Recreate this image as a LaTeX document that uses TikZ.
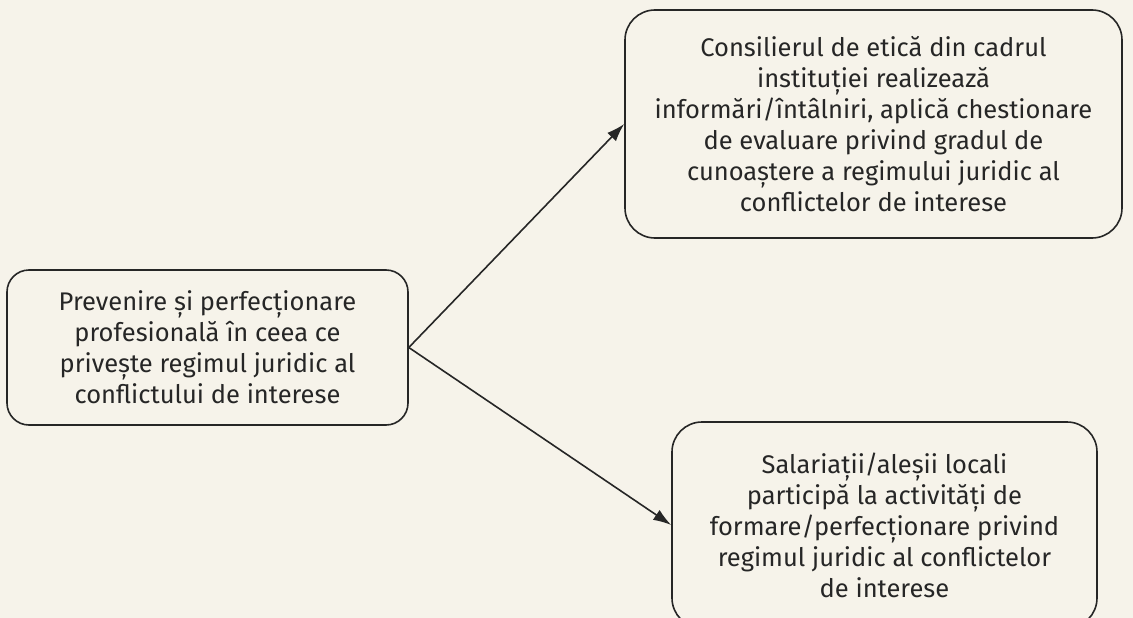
\documentclass[tikz,border=0pt]{standalone}
\usepackage{fontspec}
\setmainfont{Fira Sans}
\usetikzlibrary{arrows.meta}
\definecolor{paper}{HTML}{F6F3EA}
\definecolor{ink}{HTML}{262626}
\begin{document}
\begin{tikzpicture}[x=1pt,y=-1pt,
  box/.style={draw=ink, line width=1.6pt, rounded corners=22pt, align=center,
    text=ink, inner sep=0pt, font=\fontsize{25.5}{31}\selectfont},
  conn/.style={draw=ink, line width=1.6pt, -{Latex[length=18pt,width=12pt]}}]
\fill[paper] (0,0) rectangle (1133,618);
\useasboundingbox (0,0) rectangle (1133,618);
\node[box, minimum width=401pt, minimum height=155pt] (src) at (207.5,347.5)
  {Prevenire și perfecționare\\ profesională în ceea ce\\ privește regimul juridic al\\ conflictului de interese};
\node[box, minimum width=497pt, minimum height=228pt, rounded corners=30pt] (top) at (873.5,124)
  {Consilierul de etică din cadrul\\ instituției realizează\\ informări/întâlniri, aplică chestionare\\ de evaluare privind gradul de\\ cunoaștere a regimului juridic al\\ conflictelor de interese};
\node[box, minimum width=425pt, minimum height=206pt, rounded corners=30pt] (bot) at (884.5,525)
  {Salariații/aleșii locali\\ participă la activități de\\ formare/perfecționare privind\\ regimul juridic al conflictelor\\ de interese};
\draw[conn] (src.east) -- (top.west);
\draw[conn] (src.east) -- (bot.west);
\end{tikzpicture}
\end{document}
